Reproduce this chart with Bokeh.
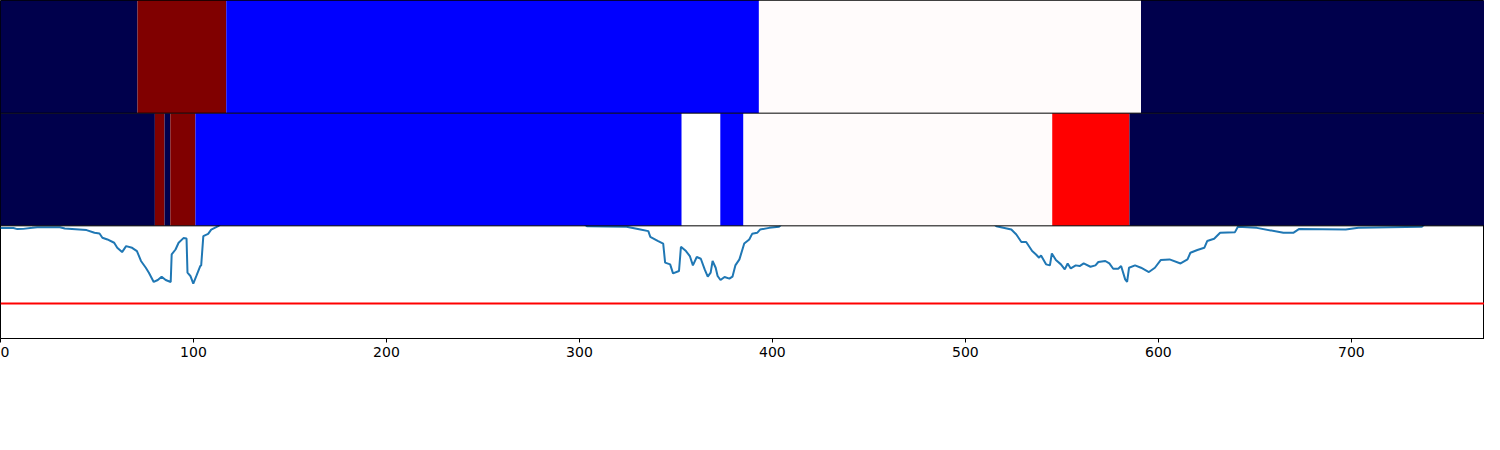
from bokeh.plotting import figure
from bokeh.models import Range1d, FixedTicker, Span, ColumnDataSource
from bokeh.embed import file_html
from bokeh.resources import INLINE

# ---- data ----
n_samples = 769

# state codes: 0 navy, 1 blue, 2 near-white, 3 red, 4 dark red, 5 white
state_colors = ["#00004C", "#0000FF", "#FFFBFB", "#FF0000", "#800000", "#FFFFFF"]

top_bounds = [0, 71, 117, 393, 591, 769]
top_states = [0, 4, 1, 2, 0]

mid_bounds = [0, 80, 85, 88, 101, 353, 373, 385, 545, 585, 769]
mid_states = [0, 4, 0, 4, 1, 5, 1, 2, 3, 0]

line_x = [0, 6.7, 8.7, 11.8, 16.4, 19.0, 30.8, 33.3, 44.6, 48.7, 51.3, 52.8, 55.4, 58.9,
          60.5, 63.0, 65.1, 68.2, 70.7, 72.8, 75.3, 76.9, 79.4, 81.5, 83.5, 85.6, 88.2,
          88.7, 90.7, 92.3, 94.8, 96.4, 96.9, 98.4, 99.9, 101.5, 103.5, 104.0, 105.1,
          107.6, 109.2, 112.8, 116, 300,
          303.9, 324.4, 331.6, 335.7, 336.7, 340.8, 343.4, 344.4, 347.0, 348.5, 351.6,
          352.6, 355.2, 357.2, 358.8, 360.8, 362.9, 364.9, 366.5, 368.0, 369.0, 370.6,
          371.6, 373.1, 375.2, 377.7, 379.3, 380.8, 382.9, 385.4, 388.0, 389.5, 392.1,
          393.6, 398.3, 403.4, 407, 512,
          516.1, 523.8, 526.4, 529.0, 531.5, 534.6, 536.6, 538.2, 539.2, 541.8, 543.8,
          544.8, 546.9, 549.5, 551.5, 553.0, 554.6, 557.2, 559.2, 561.3, 564.8, 567.4,
          568.9, 572.5, 574.6, 576.6, 579.2, 580.7, 582.8, 583.8, 584.8, 587.9, 591.0,
          595.1, 598.2, 601.2, 605.8, 611.5, 615.1, 616.6, 620.2, 623.8, 625.3, 628.9,
          632.0, 639.7, 641.2, 651.0, 664.8, 669.9, 673.0, 697.1, 703.7, 736.5, 740, 768]
line_y = [0.980, 0.980, 0.971, 0.973, 0.982, 0.988, 0.988, 0.976, 0.962, 0.938, 0.932,
          0.894, 0.879, 0.850, 0.805, 0.767, 0.820, 0.805, 0.776, 0.688, 0.628, 0.584,
          0.502, 0.519, 0.549, 0.519, 0.502, 0.746, 0.790, 0.850, 0.891, 0.888, 0.584,
          0.555, 0.487, 0.555, 0.643, 0.649, 0.909, 0.929, 0.967, 0.997, 1.05, 1.05,
          0.997, 0.991, 0.967, 0.953, 0.903, 0.865, 0.843, 0.673, 0.658, 0.578, 0.599,
          0.814, 0.776, 0.732, 0.649, 0.723, 0.708, 0.613, 0.549, 0.584, 0.688, 0.628,
          0.555, 0.519, 0.546, 0.531, 0.549, 0.649, 0.702, 0.843, 0.879, 0.929, 0.938,
          0.967, 0.982, 0.991, 1.05, 1.05,
          0.997, 0.967, 0.923, 0.856, 0.856, 0.776, 0.746, 0.717, 0.737, 0.658, 0.649,
          0.755, 0.696, 0.658, 0.613, 0.666, 0.622, 0.649, 0.643, 0.666, 0.637, 0.649,
          0.679, 0.688, 0.666, 0.619, 0.619, 0.643, 0.525, 0.502, 0.628, 0.649, 0.628,
          0.590, 0.628, 0.696, 0.702, 0.666, 0.702, 0.761, 0.785, 0.805, 0.865, 0.885,
          0.938, 0.944, 0.991, 0.982, 0.938, 0.938, 0.973, 0.967, 0.982, 0.991, 1.05, 1.05]

threshold = 0.31

x_ticks = [0, 100, 200, 300, 400, 500, 600, 700]

# panel placement in the stacked y space (bottom panel 0..1, middle 1..2, top 2..3)
panel_top = (2, 3)
panel_mid = (1, 2)


def band_source(bounds, states, y0, y1):
    return ColumnDataSource(dict(
        left=bounds[:-1], right=bounds[1:],
        bottom=[y0] * len(states), top=[y1] * len(states),
        color=[state_colors[s] for s in states],
    ))


p = figure(width=1484, height=434, output_backend="svg", toolbar_location=None,
           x_range=Range1d(0, n_samples), y_range=Range1d(0, 3),
           y_axis_location=None, min_border_left=0, min_border_right=0,
           min_border_top=0, min_border_bottom=96)
p.grid.visible = False
p.outline_line_color = "black"
p.outline_line_width = 1
p.background_fill_color = "white"
p.border_fill_color = "white"

# line panel
p.line(line_x, line_y, line_color="#1f77b4", line_width=2)
p.add_layout(Span(location=threshold, dimension="width", line_color="#FF0000", line_width=2))

# band panels (drawn over the line)
p.quad(left="left", right="right", bottom="bottom", top="top", fill_color="color",
       line_color=None, source=band_source(top_bounds, top_states, *panel_top))
p.quad(left="left", right="right", bottom="bottom", top="top", fill_color="color",
       line_color=None, source=band_source(mid_bounds, mid_states, *panel_mid))

for yb in (panel_mid[0], panel_top[0]):
    p.add_layout(Span(location=yb, dimension="width", line_color="black", line_width=1))

ax = p.xaxis[0]
ax.ticker = FixedTicker(ticks=x_ticks)
ax.minor_tick_line_color = None
ax.major_tick_in = 0
ax.major_tick_out = 4
ax.major_label_standoff = 4
ax.major_label_text_font = "DejaVu Sans"
ax.major_label_text_font_size = "14px"
ax.major_label_text_color = "black"
ax.axis_line_color = "black"
ax.major_tick_line_color = "black"

open("out.html", "w").write(file_html(p, INLINE))
